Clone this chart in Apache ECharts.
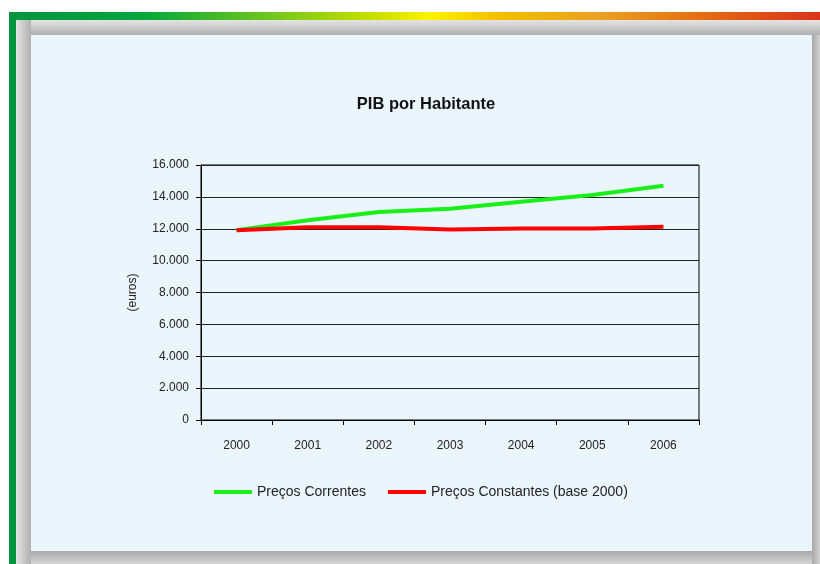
<!DOCTYPE html>
<html>
<head>
<meta charset="utf-8">
<script src="https://cdn.jsdelivr.net/npm/echarts@6/dist/echarts.min.js"></script>
<style>
html,body{margin:0;padding:0;background:#fff;}
#chart{width:820px;height:564px;}
</style>
</head>
<body>
<div id="chart"></div>
<script>
const years = ['2000','2001','2002','2003','2004','2005','2006'];
const precosCorrentes = [11900, 12530, 13050, 13260, 13700, 14120, 14700];
const precosConstantes = [11900, 12100, 12100, 11950, 12020, 12020, 12130];
const yTicks = [0, 2000, 4000, 6000, 8000, 10000, 12000, 14000, 16000];

const FONT = '"Liberation Sans", Arial, sans-serif';
const chart = echarts.init(document.getElementById('chart'));

function fmt(v){ return v === 0 ? '0' : String(v).replace(/(\d)(?=(\d{3})+$)/g, '$1.'); }

function lg(x2, y2, stops){
  return {type:'linear', x:0, y:0, x2:x2, y2:y2,
    colorStops: stops.map(s => ({offset:s[0], color:s[1]}))};
}

chart.setOption({
  backgroundColor: '#ffffff',
  animation: false,
  graphic: [
    {type:'rect', z:-10, silent:true, shape:{x:9,y:12,width:811,height:8},
      style:{fill: lg(1,0,[[0,'#009640'],[0.16,'#00a63c'],[0.45,'#c8e000'],[0.52,'#fff200'],[0.6,'#f5c000'],[0.73,'#eba020'],[0.86,'#e56a10'],[1,'#dc3219']])}},
    {type:'rect', z:-10, silent:true, shape:{x:9,y:12,width:7,height:552}, style:{fill:'#009640'}},
    {type:'rect', z:-9, silent:true, shape:{x:16,y:20,width:804,height:544}, style:{fill:'#c4c4c4'}},
    {type:'rect', z:-8, silent:true, shape:{x:16,y:20,width:804,height:15},
      style:{fill: lg(0,1,[[0,'#e4e4e4'],[1,'#b0b0b0']])}},
    {type:'rect', z:-8, silent:true, shape:{x:16,y:20,width:15,height:544},
      style:{fill: lg(1,0,[[0,'#e4e4e4'],[1,'#b0b0b0']])}},
    {type:'rect', z:-8, silent:true, shape:{x:31,y:551,width:789,height:13},
      style:{fill: lg(0,1,[[0,'#a8a8a8'],[1,'#d6d6d6']])}},
    {type:'rect', z:-8, silent:true, shape:{x:812,y:35,width:8,height:529},
      style:{fill: lg(1,0,[[0,'#a8a8a8'],[1,'#d2d2d2']])}},
    {type:'rect', z:-7, silent:true, shape:{x:31,y:35,width:781,height:516}, style:{fill:'#ebf5fc'}},
    {type:'text', z:5, silent:true, x:426, y:104,
      style:{text:'PIB por Habitante', fill:'#111', font:'bold 16.5px ' + FONT, align:'center', verticalAlign:'middle'}}
  ],
  grid: {left:201, right:121, top:165, bottom:144, show:true, borderColor:'#000', borderWidth:1, backgroundColor:'transparent'},
  legend: {
    left: 209, top: 480,
    itemWidth: 38, itemHeight: 4, itemGap: 22,
    icon: 'rect',
    textStyle: {fontFamily:FONT, fontSize:14, color:'#222'},
    data: ['Preços Correntes', 'Preços Constantes (base 2000)']
  },
  xAxis: {
    type:'category', data: years, boundaryGap:true,
    axisLine:{show:true, lineStyle:{color:'#000', width:1}},
    axisTick:{show:true, length:5, lineStyle:{color:'#000'}},
    axisLabel:{fontFamily:FONT, fontSize:12, color:'#222', margin:20}
  },
  yAxis: {
    type:'value', min:0, max:16000, interval:2000,
    name:'(euros)', nameLocation:'middle', nameGap:62, nameRotate:90,
    nameTextStyle:{fontFamily:FONT, fontSize:12, color:'#222'},
    axisLine:{show:true, lineStyle:{color:'#000', width:1}},
    axisTick:{show:true, length:5, lineStyle:{color:'#000'}},
    splitLine:{show:true, lineStyle:{color:'#222', width:1}},
    axisLabel:{fontFamily:FONT, fontSize:12, color:'#222', margin:12,
      formatter: v => yTicks.indexOf(v) >= 0 ? fmt(v) : ''}
  },
  series: [
    {name:'Preços Correntes', type:'line', data:precosCorrentes, showSymbol:false, symbol:'none',
      lineStyle:{color:'#19f019', width:4}, itemStyle:{color:'#19f019'}},
    {name:'Preços Constantes (base 2000)', type:'line', data:precosConstantes, showSymbol:false, symbol:'none',
      lineStyle:{color:'#ff0000', width:4}, itemStyle:{color:'#ff0000'}}
  ]
});
</script>
</body>
</html>
